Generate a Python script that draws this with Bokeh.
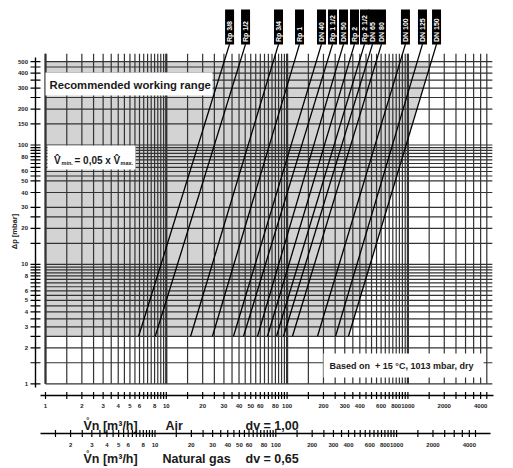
import math
from bokeh.plotting import figure
from bokeh.models import Range1d, LogScale
from bokeh.embed import file_html
from bokeh.resources import INLINE
from bokeh.core.properties import value

# ---------------- data ----------------
curve_names = ["Rp 3/8", "Rp 1/2", "Rp 3/4", "Rp 1", "DN 40", "Rp 1 1/2", "DN 50",
               "Rp 2", "Rp 2 1/2", "DN 65", "DN 80", "DN 100", "DN 125", "DN 150"]
# flow (m3/h, air) at the lowest and highest plotted pressure drop
q_at_low = [5.9, 8.1, 15.9, 24.1, 36.0, 43.6, 56.9, 68.8, 81.7, 93.4, 110.8, 178.6, 251.8, 322.3]
q_at_high = [33.4, 45.3, 84.9, 126.7, 192.6, 237.7, 293.0, 361.3, 437.4, 509.4, 604.4, 954.3, 1320.0, 1726.0]
dp_low = 2.5
dp_high = 700.0
dp_range_top = 500.0          # upper edge of recommended working range
dp_grid_top = 580.0

x_grid = [1, 1.5, 2, 2.5, 3, 3.5, 4, 4.5, 5, 5.5, 6, 6.5, 7, 7.5, 8, 8.5, 9, 9.5,
          10, 15, 20, 25, 30, 35, 40, 45, 50, 55, 60, 65, 70, 75, 80, 85, 90, 95,
          100, 150, 200, 250, 300, 350, 400, 450, 500, 550, 600, 650, 700, 750, 800, 850, 900, 950,
          1000, 1500, 2000, 2500, 3000, 3500, 4000, 4500]
x_decades = [1, 10, 100, 1000]
x_grid_right = 5000
x_labels = [1, 2, 3, 4, 5, 6, 8, 10, 20, 30, 40, 50, 60, 80, 100, 200, 300, 400, 600, 800, 1000, 2000, 4000]

gas_ticks = [1.5, 2, 2.5, 3, 3.5, 4, 4.5, 5, 5.5, 6, 6.5, 7, 7.5, 8, 8.5, 9, 9.5,
             10, 15, 20, 25, 30, 35, 40, 45, 50, 55, 60, 65, 70, 75, 80, 85, 90, 95,
             100, 150, 200, 250, 300, 350, 400, 450, 500, 550, 600, 650, 700, 750, 800, 850, 900, 950,
             1000, 1500, 2000, 2500, 3000, 3500, 4000, 4500]
gas_labels = [2, 3, 4, 5, 6, 8, 10, 20, 30, 40, 50, 60, 80, 100, 200, 300, 400, 600, 800, 1000, 2000, 4000]
dv_gas = 0.65

y_grid = [1, 1.5, 2, 2.5, 3, 3.5, 4, 4.5, 5, 5.5, 6, 6.5, 7, 7.5, 8, 8.5, 9, 9.5,
          10, 15, 20, 25, 30, 40, 50, 55, 60, 65, 70, 75, 80, 85, 90, 95,
          100, 150, 200, 250, 300, 350, 400, 450, 500]
y_labels = [1, 2, 3, 4, 5, 6, 8, 10, 20, 30, 40, 50, 60, 80, 100, 150, 200, 300, 400, 500]

# ---------------- layout helpers (picture pixels -> data) ----------------
W, H = 510, 466
X1_PX, X_DEC = 45.0, 120.8
Y1_PX, Y_DEC = 383.3, 119.4


def fx(px):
    return 10 ** ((px - X1_PX) / X_DEC)


def fy(px):
    return 10 ** ((Y1_PX - px) / Y_DEC)


FONT = value("Liberation Sans")
GRID = "#333333"

p = figure(width=W, height=H, title=None,
           x_axis_type="log", y_axis_type="log",
           x_range=Range1d(fx(0), fx(W)), y_range=Range1d(fy(H), fy(0)),
           x_axis_location=None, y_axis_location=None,
           toolbar_location=None, output_backend="svg", min_border=0)
p.x_scale = LogScale()
p.y_scale = LogScale()
p.outline_line_color = None
p.background_fill_color = "white"
p.border_fill_color = "white"
try:
    p.grid.grid_line_color = None
except Exception:
    pass

# recommended working range (grey), bounded on the right by the largest size
last = len(curve_names) - 1
frac = (math.log10(dp_range_top) - math.log10(dp_low)) / (math.log10(dp_high) - math.log10(dp_low))
q_edge_top = 10 ** (math.log10(q_at_low[last]) + frac * (math.log10(q_at_high[last]) - math.log10(q_at_low[last])))
p.patch([x_grid[0], q_at_low[last], q_edge_top, x_grid[0]],
        [dp_low, dp_low, dp_range_top, dp_range_top],
        fill_color="#d3d3d3", line_color=None)

# grid lines
p.segment(x0=x_grid, y0=[y_grid[0]] * len(x_grid), x1=x_grid, y1=[dp_grid_top] * len(x_grid),
          line_color=GRID, line_width=1.2)
p.segment(x0=x_decades, y0=[y_grid[0]] * len(x_decades), x1=x_decades, y1=[dp_grid_top] * len(x_decades),
          line_color=GRID, line_width=2.2)
p.segment(x0=[x_grid[0]] * len(y_grid), y0=y_grid, x1=[x_grid_right] * len(y_grid), y1=y_grid,
          line_color=GRID, line_width=1.2)

# y axis
p.segment(x0=[fx(35)], y0=[fy(387)], x1=[fx(35)], y1=[fy(57)], line_color="black", line_width=1.4)
p.segment(x0=[fx(30)] * len(y_grid), y0=y_grid, x1=[fx(40)] * len(y_grid), y1=y_grid,
          line_color="black", line_width=1.2)
p.text(x=[fx(27.5)] * len(y_labels), y=y_labels, text=[str(v) for v in y_labels],
       text_font=FONT, text_font_style="bold", text_font_size="6px",
       text_align="right", text_baseline="middle", text_color="#222")
p.text(x=[fx(14)], y=[fy(231)], text=["Δp [mbar]"], angle=math.pi / 2,
       text_font=FONT, text_font_style="bold", text_font_size="7.5px",
       text_align="center", text_baseline="middle", text_color="#222")

# air axis
gas_factor = 1 / math.sqrt(dv_gas)
p.segment(x0=[fx(40)], y0=[fy(395)], x1=[fx(493)], y1=[fy(395)], line_color="black", line_width=1.4)
p.segment(x0=x_grid, y0=[fy(391.5)] * len(x_grid), x1=x_grid, y1=[fy(398.5)] * len(x_grid),
          line_color="black", line_width=1.2)
p.text(x=x_labels, y=[fy(405.5)] * len(x_labels), text=[str(v) for v in x_labels],
       text_font=FONT, text_font_style="bold", text_font_size="6px",
       text_align="center", text_baseline="middle", text_color="#222")

# natural gas axis
gx = [t / gas_factor for t in gas_ticks]
gl = [t / gas_factor for t in gas_labels]
p.segment(x0=[fx(40)], y0=[fy(433)], x1=[fx(490)], y1=[fy(433)], line_color="black", line_width=1.4)
p.segment(x0=gx, y0=[fy(429.5)] * len(gx), x1=gx, y1=[fy(436.5)] * len(gx),
          line_color="black", line_width=1.2)
p.text(x=gl, y=[fy(444)] * len(gl), text=[str(v) for v in gas_labels],
       text_font=FONT, text_font_style="bold", text_font_size="6px",
       text_align="center", text_baseline="middle", text_color="#222")

# axis titles
big = dict(text_font=FONT, text_font_style="bold", text_font_size="12.5px",
           text_align="left", text_baseline="alphabetic", text_color="#1a1a1a")
p.text(x=[fx(83), fx(165), fx(245)], y=[fy(425)] * 3,
       text=["V\u030an [m³/h]", "Air", "dv = 1,00"], **big)
p.text(x=[fx(83), fx(162), fx(245)], y=[fy(458)] * 3,
       text=["V\u030an [m³/h]", "Natural gas", "dv = 0,65"], **big)

# characteristic curves
p.multi_line(xs=[[a, b] for a, b in zip(q_at_low, q_at_high)],
             ys=[[dp_low, dp_high] for _ in curve_names],
             line_color="black", line_width=1.3)

# curve labels (black boxes at the top)
p.rect(x=q_at_high, y=[fy(26.5)] * len(q_at_high), width=9, height=35,
       width_units="screen", height_units="screen", fill_color="black", line_color=None)
p.text(x=q_at_high, y=[fy(41.5)] * len(q_at_high), text=curve_names, angle=math.pi / 2,
       text_font=FONT, text_font_style="bold", text_font_size="7px",
       text_align="left", text_baseline="middle", text_color="white")

# white annotation boxes
p.quad(left=[fx(45), fx(47), fx(323)], right=[fx(212), fx(135), fx(483)],
       top=[fy(72), fy(145), fy(353)], bottom=[fy(95), fy(169), fy(377)],
       fill_color="white", line_color=None)
p.text(x=[fx(49)], y=[fy(84)], text=["Recommended working range"],
       text_font=FONT, text_font_style="bold", text_font_size="11.3px",
       text_align="left", text_baseline="middle", text_color="#1a1a1a")
p.text(x=[fx(329)], y=[fy(365.5)], text=["Based on \u00a0+ 15 °C, 1013 mbar, dry"],
       text_font=FONT, text_font_style="bold", text_font_size="9px",
       text_align="left", text_baseline="middle", text_color="#1a1a1a")
p.text(x=[fx(53.5), fx(74), fx(113)], y=[fy(160)] * 3, text=["V\u0302", "= 0,05 x", "V\u0302"],
       text_font=FONT, text_font_style="bold", text_font_size="10px",
       text_align="left", text_baseline="alphabetic", text_color="#1a1a1a")
p.text(x=[fx(61), fx(120)], y=[fy(162)] * 2, text=["min.", "max."],
       text_font=FONT, text_font_style="bold", text_font_size="5.5px",
       text_align="left", text_baseline="alphabetic", text_color="#1a1a1a")

open("out.html", "w").write(file_html(p, INLINE))
